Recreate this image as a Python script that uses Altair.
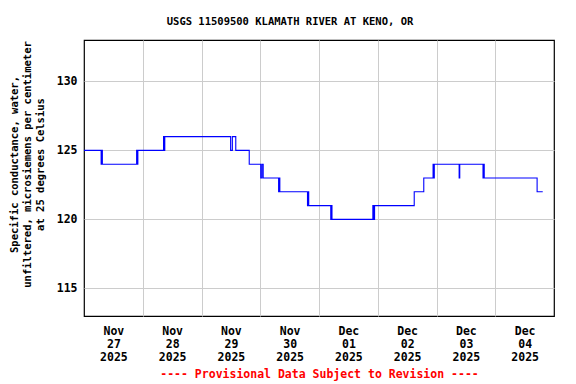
import altair as alt
import pandas as pd

# Change points (hours after 2025-11-27 00:00) and specific conductance values
hours = [0, 7.0, 7.25, 7.5, 21.5, 21.75, 22.0, 32.5, 32.75, 33.0,
         59.9, 60.6, 62.0, 67.5, 72.2, 72.7, 73.2, 79.5, 79.75, 80.0,
         91.3, 91.55, 91.8, 100.8, 101.0, 101.3, 118.0, 118.3, 118.7,
         134.9, 138.8, 142.6, 142.85, 143.1, 153.25, 153.5, 163.0, 163.25,
         163.5, 185.1, 187.4]
values = [125, 124, 125, 124, 125, 124, 125, 126, 125, 126,
          125, 126, 125, 124, 123, 124, 123, 122, 123, 122,
          121, 122, 121, 120, 121, 120, 121, 120, 121,
          122, 123, 124, 123, 124, 123, 124, 123, 124,
          123, 122, 122]

y_ticks = [115, 120, 125, 130]
grid_days = [28, 29, 30, 1, 2, 3, 4]
label_days = [(11, 27), (11, 28), (11, 29), (11, 30), (12, 1), (12, 2), (12, 3), (12, 4)]

title_text = "USGS 11509500 KLAMATH RIVER AT KENO, OR"
y_title = ["Specific conductance, water,",
           "unfiltered, microsiemens per centimeter",
           "at 25 degrees Celsius"]
footnote = "---- Provisional Data Subject to Revision ----"

base = pd.Timestamp("2025-11-27 00:00:00")
df = pd.DataFrame({
    "time": [(base + pd.Timedelta(hours=h)).strftime("%Y-%m-%dT%H:%M:%S") for h in hours],
    "value": values,
})

FONT = "DejaVu Sans Mono"

grid_vals = [alt.DateTime(year=2025, month=(11 if d > 20 else 12), date=d, hours=0) for d in grid_days]
label_vals = [alt.DateTime(year=2025, month=m, date=d, hours=12) for m, d in label_days]

xscale = alt.Scale(domain=[alt.DateTime(year=2025, month=11, date=27, hours=0),
                           alt.DateTime(year=2025, month=12, date=5, hours=0)])
yenc = alt.Y("value:Q",
             scale=alt.Scale(domain=[113, 133], nice=False, zero=False),
             axis=alt.Axis(values=y_ticks, grid=True, ticks=False, domain=False,
                           title=y_title, titleFont=FONT, titleFontSize=10.5,
                           titleFontWeight="bold", titleColor="black",
                           titleAngle=-90, titleX=-70, titleY=124,
                           titleAlign="center", titleBaseline="middle",
                           titleLineHeight=13.3,
                           labelFont=FONT, labelFontSize=11.5, labelFontWeight="bold",
                           labelColor="black", labelPadding=7,
                           gridColor="#cccccc", gridWidth=1))

grid_layer = alt.Chart(df).mark_line(opacity=0).encode(
    x=alt.X("time:T", scale=xscale,
            axis=alt.Axis(orient="bottom", values=grid_vals, grid=True, labels=False,
                          ticks=False, domain=False, title=None,
                          gridColor="#cccccc", gridWidth=1)),
    y=yenc,
)

line_layer = alt.Chart(df).mark_line(color="#0000ff", strokeWidth=1.1,
                                     interpolate="step-after").encode(
    x=alt.X("time:T", scale=xscale,
            axis=alt.Axis(orient="bottom", values=label_vals, grid=False, ticks=False,
                          domain=False,
                          labelExpr="[timeFormat(datum.value, '%b'), timeFormat(datum.value, '%d'), timeFormat(datum.value, '%Y')]",
                          labelFont=FONT, labelFontSize=11.5, labelFontWeight="bold",
                          labelColor="black", labelPadding=9, labelLineHeight=13,
                          labelAngle=0,
                          title=footnote, titleFont=FONT, titleFontSize=11.5,
                          titleFontWeight="bold", titleColor="#ff0000",
                          titlePadding=6)),
    y=yenc,
)

chart = alt.layer(grid_layer, line_layer).resolve_axis(x="independent").properties(
    width=470,
    height=276,
    autosize=alt.AutoSizeParams(type="none"),
    padding={"left": 76, "top": 32, "right": 14, "bottom": 68},
    title=alt.TitleParams(title_text, font=FONT, fontSize=10.5, fontWeight="bold",
                          color="black", anchor="middle", dx=-29, offset=13),
    background="white",
).configure_view(stroke="black", strokeWidth=1.2)

chart.save("out.html", embed_options={"renderer": "svg", "actions": False})
